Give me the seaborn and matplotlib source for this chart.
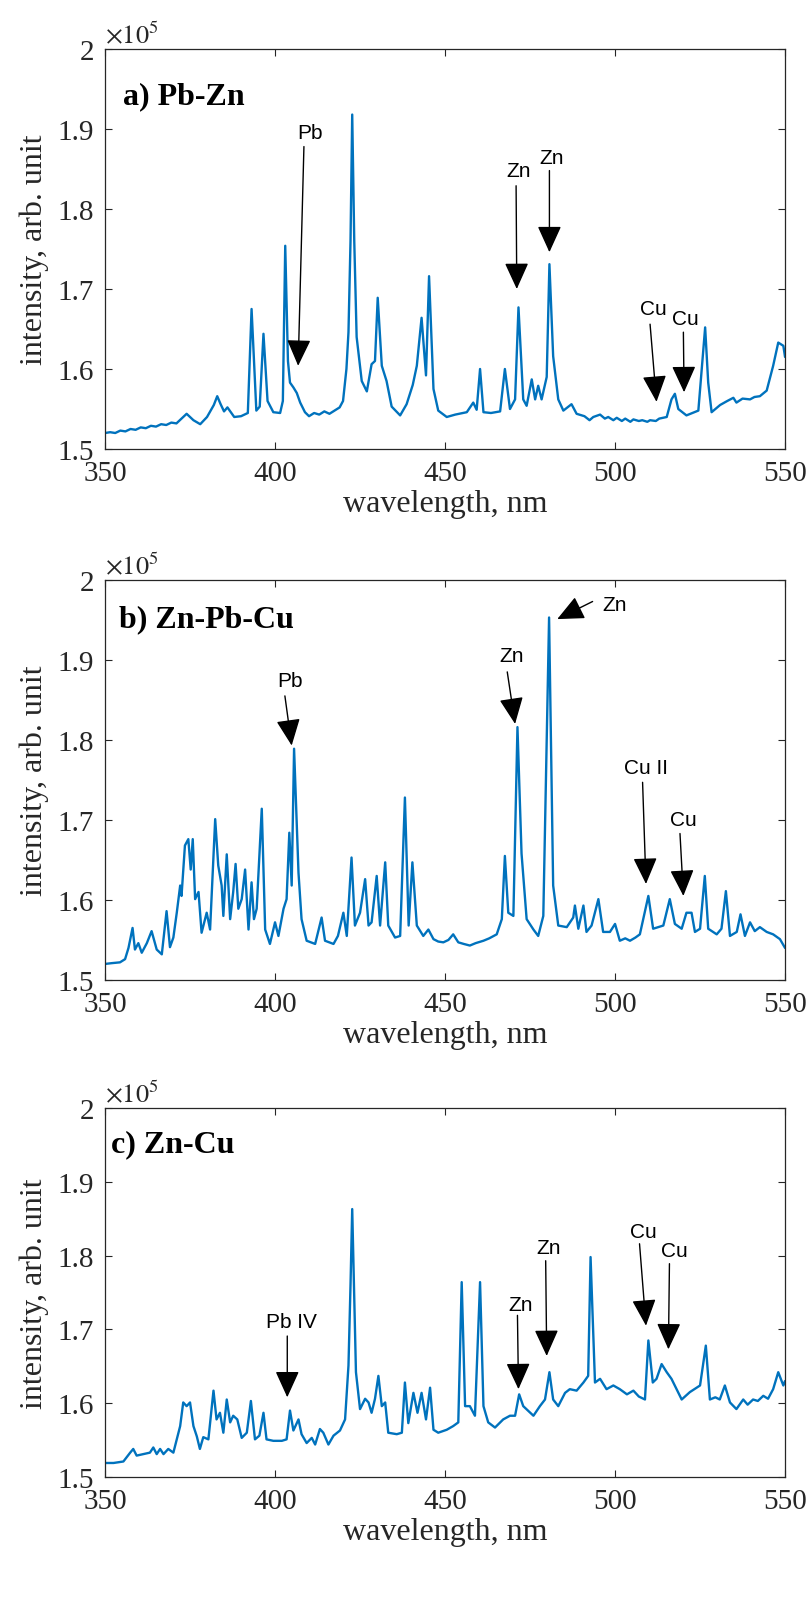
"""
LIBS emission spectra of three ore samples (Pb-Zn, Zn-Pb-Cu, Zn-Cu), 350-550 nm,
with arrows marking the identified Pb / Zn / Cu lines.
"""

import matplotlib

matplotlib.use("Agg")
import matplotlib.pyplot as plt
import pandas as pd
import seaborn as sns
from matplotlib.ticker import FuncFormatter

# ---------------------------------------------------------------------------
# Data (intensity in units of 1e5)
# ---------------------------------------------------------------------------
wl_a = [350, 351.5, 353, 354.5, 356, 357.5, 359, 360.5, 362, 363.5, 365, 366.5, 368,
        369.5, 371, 372, 374, 376, 378, 380, 382, 383, 384,
        385, 386, 388, 390, 392, 393.1, 394.5, 395.5, 396.6, 397.8, 399.5, 401.5, 402.3,
        403, 403.8, 404.4, 405.4, 406.4, 407.4, 408.8, 410, 411.5, 413, 414.5, 416, 417.5,
        419, 420, 421,
        421.6, 422.2, 422.7, 423.3, 424, 425.5, 427, 428.4, 429.4, 430.2, 431.4, 432.8,
        434.3, 436.8, 438.7, 440.5, 441.7, 443.1, 444.4, 445.3, 446.6, 448, 450.5, 453,
        456.4, 458.3, 459.3, 460.3, 461.3, 463.5, 466.2, 467.6, 469.1, 470.6, 471.6, 473,
        474, 475.5, 476.5, 477.4, 478.4, 479.9, 480.7, 481.8, 483.3, 484.8, 487.2, 488.7,
        491, 492.5, 493.6, 495.6, 497, 498, 499.5, 500.5, 502, 503, 504.5, 505.4, 507, 508,
        509.5, 510.3, 512, 513, 515.2, 516.6, 517.6,
        518.6, 521, 524.5, 526, 526.5, 527.4, 528.4, 530.9, 533, 534.8, 535.7, 537.5,
        539.7, 541, 542.6, 544.6, 546.5, 548, 549.5, 550]
int_a = [1.520, 1.521, 1.520, 1.523, 1.522, 1.525, 1.524, 1.527, 1.526, 1.529, 1.528,
         1.531, 1.530, 1.533, 1.532, 1.536, 1.544, 1.536,
         1.531, 1.540, 1.555, 1.566, 1.556, 1.547, 1.552, 1.540, 1.541, 1.545, 1.675,
         1.548, 1.553, 1.644, 1.560, 1.546, 1.545, 1.560, 1.754, 1.610, 1.583, 1.577,
         1.570, 1.558, 1.546, 1.541, 1.545, 1.543, 1.547, 1.544, 1.548, 1.552, 1.560,
         1.600, 1.646,
         1.760, 1.918, 1.760, 1.640, 1.585, 1.572, 1.606, 1.610, 1.689, 1.604, 1.585,
         1.553, 1.542, 1.556, 1.580, 1.604, 1.664, 1.592, 1.716, 1.575, 1.548, 1.540,
         1.543, 1.546, 1.558, 1.549, 1.600, 1.546, 1.545, 1.547, 1.600, 1.550, 1.562,
         1.677, 1.562, 1.554, 1.587, 1.562, 1.579, 1.562, 1.590, 1.731, 1.616, 1.562,
         1.548, 1.556, 1.544,
         1.541, 1.536, 1.540, 1.543, 1.538, 1.540, 1.536, 1.539, 1.535, 1.538, 1.534,
         1.537, 1.535, 1.536, 1.534, 1.536, 1.535, 1.538, 1.540, 1.562, 1.569,
         1.550, 1.542, 1.548, 1.625, 1.652, 1.583,
         1.546, 1.555, 1.560, 1.564, 1.558, 1.563, 1.562, 1.565, 1.566, 1.573, 1.604,
         1.633, 1.629, 1.615]

wl_b = [350, 352, 354.4, 355.9, 356.9, 358.1, 358.8, 359.8, 360.8, 362.3, 363.7, 365.2,
        366.7, 368.1, 369.1, 370.1, 371.1, 372.1, 372.5, 373.5, 374.5, 375.2, 375.8,
        376.5, 377.5, 378.4, 379.9, 380.9, 382.4, 383.3, 384.3, 384.8, 385.8, 386.8,
        387.7, 388.4, 389.2, 390.2, 391.2, 392.2, 393.1, 393.8, 394.6, 396.1, 397.1,
        398.5, 400, 401, 402.5, 403.4, 404.2, 404.9, 405.6, 406.9, 407.8, 409.3, 411.8,
        413.7, 414.7, 417.2, 418.5, 420.1, 421.1, 422.5, 423.5, 425, 426.5, 427.5, 428.4,
        429.9, 430.9, 432.4, 433.3, 435.3, 436.8, 438.2, 439.3, 440.4, 441.7, 443.6,
        445.1, 446.6, 448, 449.5, 451, 452.4, 453.9, 455.5, 457.3, 459, 461.3, 463, 465.2,
        466.7, 467.6, 468.6,
        470.1, 471.3, 472.5, 474, 476, 477.4, 478.9, 480.6, 481.8, 483.3, 485.8, 487.7,
        488.2, 489.2, 490.7, 491.6, 493.1, 495.1, 496.5, 498.5, 500, 501.4, 503, 504.4,
        506, 507.3,
        509.8, 511.2, 514.2, 516.1, 517.6, 519.6, 521, 522.5, 523.5, 525, 526.4, 527.4,
        529.9, 531.3, 532.6, 533.8, 535.8, 536.9, 538.2, 539.7, 541.1, 542.6, 544.6,
        546.5, 548.5, 550]
int_b = [1.520, 1.521, 1.522, 1.526, 1.540, 1.565, 1.538, 1.546, 1.534, 1.546, 1.561,
         1.538, 1.532, 1.586, 1.541, 1.553, 1.584, 1.618, 1.605, 1.668, 1.676, 1.638,
         1.676, 1.601, 1.610, 1.559, 1.584, 1.563, 1.701, 1.643, 1.618, 1.580, 1.657,
         1.576, 1.610, 1.645, 1.589, 1.601, 1.638, 1.563, 1.622, 1.576, 1.589, 1.714,
         1.563, 1.545, 1.572, 1.555, 1.589, 1.601, 1.684, 1.618, 1.789, 1.634, 1.576,
         1.549, 1.545, 1.578, 1.549, 1.545, 1.555, 1.584, 1.555, 1.653, 1.568, 1.584,
         1.626, 1.568, 1.572, 1.630, 1.568, 1.647, 1.568, 1.553, 1.555, 1.728, 1.568,
         1.647, 1.568, 1.555, 1.563, 1.551, 1.548, 1.547, 1.550, 1.557, 1.547, 1.545,
         1.543, 1.546, 1.549, 1.552, 1.557,
         1.576, 1.655, 1.584, 1.580, 1.816, 1.658, 1.576, 1.563, 1.555, 1.580, 1.953,
         1.618, 1.568, 1.566, 1.578, 1.593, 1.564, 1.593, 1.560, 1.568, 1.601, 1.560,
         1.560, 1.570, 1.549, 1.552, 1.549, 1.553, 1.557, 1.605, 1.564, 1.568, 1.601,
         1.570, 1.564,
         1.584, 1.584, 1.560, 1.564, 1.630, 1.564, 1.557, 1.564, 1.611, 1.555, 1.560,
         1.582, 1.555, 1.572, 1.561, 1.566, 1.560, 1.557, 1.551, 1.540]

wl_c = [350, 352.5, 355.4, 357.4, 358.3, 359.3, 361.3, 363.2, 364.2, 365.2, 366.2, 367.2,
        368.6, 370.1, 371.1, 372.1, 373, 374, 375, 376, 377, 377.9, 378.9, 380.4, 381.9,
        382.8, 383.8, 384.8, 385.8, 386.8, 387.7, 388.9, 390.2, 391.7, 392.9, 394.1,
        395.4, 396.6, 397.5, 399.5, 402, 403.4, 404.4, 405.4, 406.9, 407.8, 409.3, 410.8,
        411.8, 413.2, 414.2, 415.7, 417.2, 419.1, 420.6, 421.6, 422.2, 422.7, 423.3,
        423.8, 425, 426.5, 427.5, 428.4, 429.4, 430.4, 431.4, 432.4, 433.3, 435.8, 437.3,
        438.2, 439.2, 440.7, 441.9, 443.1, 444.4, 445.6, 446.6, 448, 450.5, 452.4, 453.9,
        454.9, 455.9, 457.3, 458.8, 460.3, 461.3, 462.7, 464.7, 467.1, 469.1, 470.6,
        471.8, 473, 476, 477.9, 479.4, 480.7, 481.8, 483.3, 485.3, 486.7, 488.7, 490.7,
        492.1, 492.8, 494.1, 495.6, 497.5, 499.5, 501.4, 503.5, 505.4, 507, 508.8, 509.8,
        511.1, 512.2, 513.7, 515.2, 516.6, 518.1, 519.6, 522, 525, 526.7, 527.9, 529.5,
        530.8, 532.3, 533.8, 535.7, 537.7, 539, 540.6, 542, 543.6, 545, 546.5, 548,
        549.5, 550]
int_c = [1.519, 1.519, 1.521, 1.533, 1.538, 1.529, 1.531, 1.533, 1.540, 1.531, 1.538,
         1.531, 1.538, 1.533, 1.551, 1.569, 1.601, 1.596, 1.601, 1.569, 1.555, 1.538,
         1.554, 1.551, 1.617, 1.578, 1.587, 1.560, 1.605, 1.574, 1.583, 1.578, 1.553,
         1.560, 1.603, 1.551, 1.556, 1.587, 1.551, 1.549, 1.549, 1.551, 1.590, 1.563,
         1.578, 1.558, 1.546, 1.553, 1.544, 1.565, 1.560, 1.544, 1.556, 1.563, 1.578,
         1.651, 1.760, 1.863, 1.740, 1.642, 1.592, 1.606, 1.601, 1.587, 1.606, 1.637,
         1.596, 1.601, 1.560, 1.558, 1.560, 1.628, 1.573, 1.614, 1.587, 1.614, 1.578,
         1.621, 1.564, 1.560, 1.564, 1.569, 1.574, 1.764, 1.596, 1.596, 1.583, 1.764,
         1.596, 1.574, 1.567, 1.578, 1.583, 1.583, 1.612, 1.596, 1.583, 1.596, 1.605,
         1.642, 1.605, 1.596, 1.614, 1.619, 1.617, 1.628, 1.637, 1.798, 1.628, 1.633,
         1.619, 1.624, 1.619, 1.612, 1.617, 1.609, 1.605, 1.685,
         1.628, 1.633, 1.653, 1.642, 1.633, 1.619, 1.605, 1.615, 1.624, 1.678, 1.605,
         1.608, 1.605, 1.624, 1.601, 1.592, 1.605, 1.598, 1.605, 1.603, 1.610, 1.606,
         1.619, 1.642, 1.624, 1.630]

# Line identifications: label, text centre, arrow tail, arrow tip (data coords)
labels_a = ["Pb", "Zn", "Zn", "Cu", "Cu"]
text_a = [(410.3, 1.896), (471.5, 1.848), (481.4, 1.864), (511.2, 1.676), (520.6, 1.663)]
tail_a = [(408.5, 1.878), (470.9, 1.829), (480.7, 1.848), (510.3, 1.656), (520.1, 1.646)]
tip_a = [(406.8, 1.604), (471.1, 1.700), (480.7, 1.746), (512.2, 1.559), (520.3, 1.571)]

labels_b = ["Pb", "Zn", "Zn", "Cu II", "Cu"]
text_b = [(404.4, 1.874), (469.6, 1.905), (500.0, 1.969), (509.1, 1.765), (520.1, 1.701)]
tail_b = [(402.9, 1.855), (468.3, 1.885), (493.4, 1.973), (508.1, 1.747), (519.1, 1.683)]
tip_b = [(404.9, 1.793), (470.6, 1.820), (483.0, 1.951), (509.1, 1.620), (520.1, 1.605)]

labels_c = ["Pb IV", "Zn", "Zn", "Cu", "Cu"]
text_c = [(404.9, 1.710), (472.1, 1.734), (480.6, 1.811), (508.3, 1.832), (517.4, 1.807)]
tail_c = [(403.6, 1.691), (471.3, 1.719), (479.6, 1.793), (507.2, 1.816), (516.0, 1.789)]
tip_c = [(403.6, 1.608), (471.6, 1.619), (479.9, 1.664), (509.1, 1.705), (515.7, 1.673)]

panel_titles = ["a) Pb-Zn", "b) Zn-Pb-Cu", "c) Zn-Cu"]
x_ticks = [350, 400, 450, 500, 550]
y_ticks = [1.5, 1.6, 1.7, 1.8, 1.9, 2.0]

LINE_COLOR = "#0072BD"
AX_COLOR = "#262626"

sns.set_style("ticks")
plt.rcParams["font.family"] = ["Liberation Serif", "DejaVu Serif"]
plt.rcParams["mathtext.fontset"] = "stix"


def draw_panel(ax, wl, inten, title, title_pos, labels, texts, tails, tips):
    df = pd.DataFrame({"wavelength": wl, "intensity": inten})
    sns.lineplot(data=df, x="wavelength", y="intensity", ax=ax, color=LINE_COLOR,
                 linewidth=1.7, estimator=None, sort=True)

    ax.set_xlim(350, 550)
    ax.set_ylim(1.5, 2.0)
    ax.set_xticks(x_ticks)
    ax.set_yticks(y_ticks)
    ax.yaxis.set_major_formatter(FuncFormatter(lambda v, _: f"{v:g}"))
    ax.tick_params(direction="in", top=True, right=True, length=5, width=0.8,
                   labelsize=21, colors=AX_COLOR, pad=8)
    for sp in ax.spines.values():
        sp.set_visible(True)
        sp.set_color(AX_COLOR)
        sp.set_linewidth(0.9)

    ax.set_xlabel("wavelength, nm", fontsize=23, color=AX_COLOR, labelpad=2)
    ax.set_ylabel("intensity, arb. unit", fontsize=23, color=AX_COLOR, labelpad=6)
    ax.text(0.0, 1.005, r"$\times10^{5}$", transform=ax.transAxes, ha="left",
            va="bottom", fontsize=19, color=AX_COLOR)
    ax.text(title_pos[0], title_pos[1], title, transform=ax.transAxes, ha="left",
            va="center", fontsize=23, fontweight="bold", color="black")

    for lab, txt, tail, tip in zip(labels, texts, tails, tips):
        ax.annotate("", xy=tip, xytext=tail,
                    arrowprops=dict(arrowstyle="-|>,head_length=0.55,head_width=0.25",
                                    color="black", lw=1.0, mutation_scale=30,
                                    shrinkA=0, shrinkB=0))
        ax.text(txt[0], txt[1], lab, ha="center", va="center", fontsize=15,
                family=["Liberation Sans", "DejaVu Sans"], color="black")


fig = plt.figure(figsize=(8.11, 16.06), dpi=100)
ax_a = fig.add_axes([0.1295, 0.7198, 0.8385, 0.2491])
ax_b = fig.add_axes([0.1295, 0.3892, 0.8385, 0.2491])
ax_c = fig.add_axes([0.1295, 0.0797, 0.8385, 0.2298])

draw_panel(ax_a, wl_a, int_a, panel_titles[0], (0.026, 0.883), labels_a, text_a, tail_a, tip_a)
draw_panel(ax_b, wl_b, int_b, panel_titles[1], (0.021, 0.9025), labels_b, text_b, tail_b, tip_b)
draw_panel(ax_c, wl_c, int_c, panel_titles[2], (0.009, 0.902), labels_c, text_c, tail_c, tip_c)

fig.savefig("out.png", dpi=100)
plt.close(fig)
